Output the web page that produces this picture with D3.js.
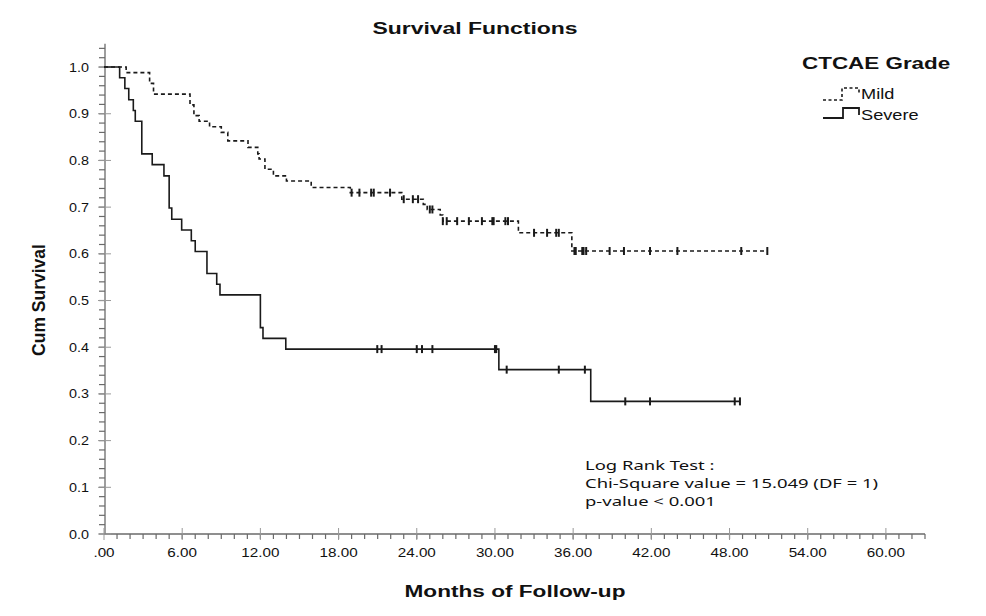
<!DOCTYPE html>
<html>
<head>
<meta charset="utf-8">
<script src="https://cdn.jsdelivr.net/npm/d3@7"></script>
<style>
  body { margin: 0; background: #fff; }
  svg { display: block; font-family: "Liberation Sans", Arial, sans-serif; }
</style>
</head>
<body>
<svg id="chart" width="986" height="616"></svg>
<script>
// Mild group: step times (months) and survival after each step
var mildTimes = [1.7, 3.5, 3.8, 6.6, 6.9, 7.3, 8.1, 9.0, 9.5, 11.05, 11.8, 11.9, 12.35, 13.0, 14.0, 15.9, 18.9, 22.85, 24.5, 24.8, 25.8, 26.0, 31.8, 35.9];
var mildSurv  = [0.988, 0.965, 0.942, 0.919, 0.896, 0.884, 0.872, 0.860, 0.842, 0.828, 0.814, 0.803, 0.781, 0.767, 0.756, 0.742, 0.731, 0.717, 0.706, 0.695, 0.683, 0.670, 0.645, 0.606];
var mildCensored = [19.0, 19.6, 20.5, 20.7, 21.95, 23.0, 23.7, 24.1, 25.0, 25.2, 26.0, 26.3, 27.1, 28.0, 29.0, 29.8, 29.9, 30.8, 31.0, 33.0, 34.0, 34.7, 34.9, 36.1, 36.2, 36.7, 36.8, 37.0, 38.8, 39.9, 41.9, 44.0, 48.9, 50.9];
var mildEnd = 50.9;

// Severe group
var severeTimes = [1.2, 1.6, 1.9, 2.25, 2.4, 2.9, 3.7, 4.6, 5.0, 5.2, 5.96, 6.7, 7.0, 7.9, 8.65, 8.9, 12.0, 12.2, 13.95, 30.3, 37.35];
var severeSurv  = [0.977, 0.954, 0.930, 0.907, 0.884, 0.814, 0.791, 0.767, 0.698, 0.674, 0.651, 0.628, 0.605, 0.558, 0.535, 0.512, 0.442, 0.419, 0.396, 0.352, 0.284];
var severeCensored = [20.97, 21.3, 24.0, 24.4, 25.2, 30.0, 30.1, 30.9, 34.9, 36.9, 40.0, 41.9, 48.4, 48.8];
var severeEnd = 48.8;

var xTicks = [0, 6, 12, 18, 24, 30, 36, 42, 48, 54, 60];
var xTickLabels = [".00", "6.00", "12.00", "18.00", "24.00", "30.00", "36.00", "42.00", "48.00", "54.00", "60.00"];
var yTicks = [0, 0.1, 0.2, 0.3, 0.4, 0.5, 0.6, 0.7, 0.8, 0.9, 1.0];
var statLines = ["Log Rank Test :", "Chi-Square value = 15.049 (DF = 1)", "p-value < 0.001"];

var svg = d3.select("#chart");
var x = d3.scaleLinear().domain([0, 63]).range([104, 925]);
var y = d3.scaleLinear().domain([0, 1.05]).range([534, 43.7]);

// text helper: the original picture is stretched horizontally
function label(txt, px, py, size, weight, anchor, sx, family) {
    var g = svg.append("g").attr("transform", "translate(" + px + "," + py + ") scale(" + sx + ",1)");
    g.append("text").text(txt)
        .attr("text-anchor", anchor || "start")
        .style("font-size", size + "px")
        .style("font-weight", weight || "normal")
        .style("font-family", family || null)
        .attr("fill", "#111");
    return g;
}

// axes
var axisColor = "#6a6a6a";
svg.append("line").attr("x1", 105).attr("x2", 105).attr("y1", y(1.05)).attr("y2", y(0))
    .attr("stroke", axisColor).attr("stroke-width", 1.3);
svg.append("line").attr("x1", x(0)).attr("x2", x(63)).attr("y1", y(0)).attr("y2", y(0))
    .attr("stroke", axisColor).attr("stroke-width", 1.3);

// minor ticks
d3.range(0, 1.05, 0.02).forEach(function (v) {
    svg.append("line").attr("x1", 99).attr("x2", 105).attr("y1", y(v)).attr("y2", y(v))
        .attr("stroke", axisColor).attr("stroke-width", 1.2);
});
d3.range(1, 64, 1).forEach(function (v) {
    svg.append("line").attr("x1", x(v)).attr("x2", x(v)).attr("y1", y(0)).attr("y2", y(0) + 5)
        .attr("stroke", axisColor).attr("stroke-width", 1.2);
});

// major ticks + labels
yTicks.forEach(function (v) {
    svg.append("line").attr("x1", 98).attr("x2", 111).attr("y1", y(v)).attr("y2", y(v))
        .attr("stroke", "#999").attr("stroke-width", 1);
    label(d3.format(".1f")(v), 89, y(v) + 4.5, 12.5, "normal", "end", 1.15);
});
xTicks.forEach(function (v, i) {
    svg.append("line").attr("x1", x(v)).attr("x2", x(v)).attr("y1", y(0) - 6).attr("y2", y(0) + 6)
        .attr("stroke", "#999").attr("stroke-width", 1);
    label(xTickLabels[i], x(v), 557, 12.5, "normal", "middle", 1.22);
});

// survival curves
function stepPoints(times, surv, end) {
    var pts = [[0, 1]];
    times.forEach(function (t, i) { pts.push([t, surv[i]]); });
    pts.push([end, surv[surv.length - 1]]);
    return pts;
}
function survAt(times, surv, t) {
    var s = 1;
    times.forEach(function (tt, i) { if (tt <= t) s = surv[i]; });
    return s;
}
var line = d3.line().x(function (d) { return x(d[0]); }).y(function (d) { return y(d[1]); })
    .curve(d3.curveStepAfter);

svg.append("path").datum(stepPoints(mildTimes, mildSurv, mildEnd))
    .attr("d", line).attr("fill", "none").attr("stroke", "#1a1a1a")
    .attr("stroke-width", 1.6).attr("stroke-dasharray", "4,3");
svg.append("path").datum(stepPoints(severeTimes, severeSurv, severeEnd))
    .attr("d", line).attr("fill", "none").attr("stroke", "#1a1a1a")
    .attr("stroke-width", 1.6);

// censor marks
svg.selectAll(".cm").data(mildCensored).enter().append("line")
    .attr("x1", function (d) { return x(d); }).attr("x2", function (d) { return x(d); })
    .attr("y1", function (d) { return y(survAt(mildTimes, mildSurv, d)) - 4; })
    .attr("y2", function (d) { return y(survAt(mildTimes, mildSurv, d)) + 4; })
    .attr("stroke", "#1a1a1a").attr("stroke-width", 2);
svg.selectAll(".cs").data(severeCensored).enter().append("line")
    .attr("x1", function (d) { return x(d); }).attr("x2", function (d) { return x(d); })
    .attr("y1", function (d) { return y(survAt(severeTimes, severeSurv, d)) - 4; })
    .attr("y2", function (d) { return y(survAt(severeTimes, severeSurv, d)) + 4; })
    .attr("stroke", "#1a1a1a").attr("stroke-width", 2);

// titles
label("Survival Functions", 475, 34, 17, "bold", "middle", 1.35);
label("Months of Follow-up", 515, 597, 17, "bold", "middle", 1.33);
svg.append("text").text("Cum Survival")
    .attr("transform", "translate(45,300) rotate(-90)")
    .attr("text-anchor", "middle").style("font-size", "17.5px").style("font-weight", "bold")
    .attr("fill", "#111");

// legend
label("CTCAE Grade", 802, 69, 17, "bold", "start", 1.32);
svg.append("path").attr("d", "M823,100 H842 V88 H859 V94")
    .attr("fill", "none").attr("stroke", "#1a1a1a").attr("stroke-width", 1.6).attr("stroke-dasharray", "3,2.5");
svg.append("path").attr("d", "M823,118 H843 V108 H859 V115")
    .attr("fill", "none").attr("stroke", "#1a1a1a").attr("stroke-width", 1.8);
label("Mild", 861, 99, 14, "normal", "start", 1.3);
label("Severe", 861, 120, 14, "normal", "start", 1.3);

// log rank annotation
statLines.forEach(function (t, i) {
    label(t, 585, 470 + i * 18, 13, "normal", "start", 1.42, "'Noto Sans', sans-serif");
});
</script>
</body>
</html>
